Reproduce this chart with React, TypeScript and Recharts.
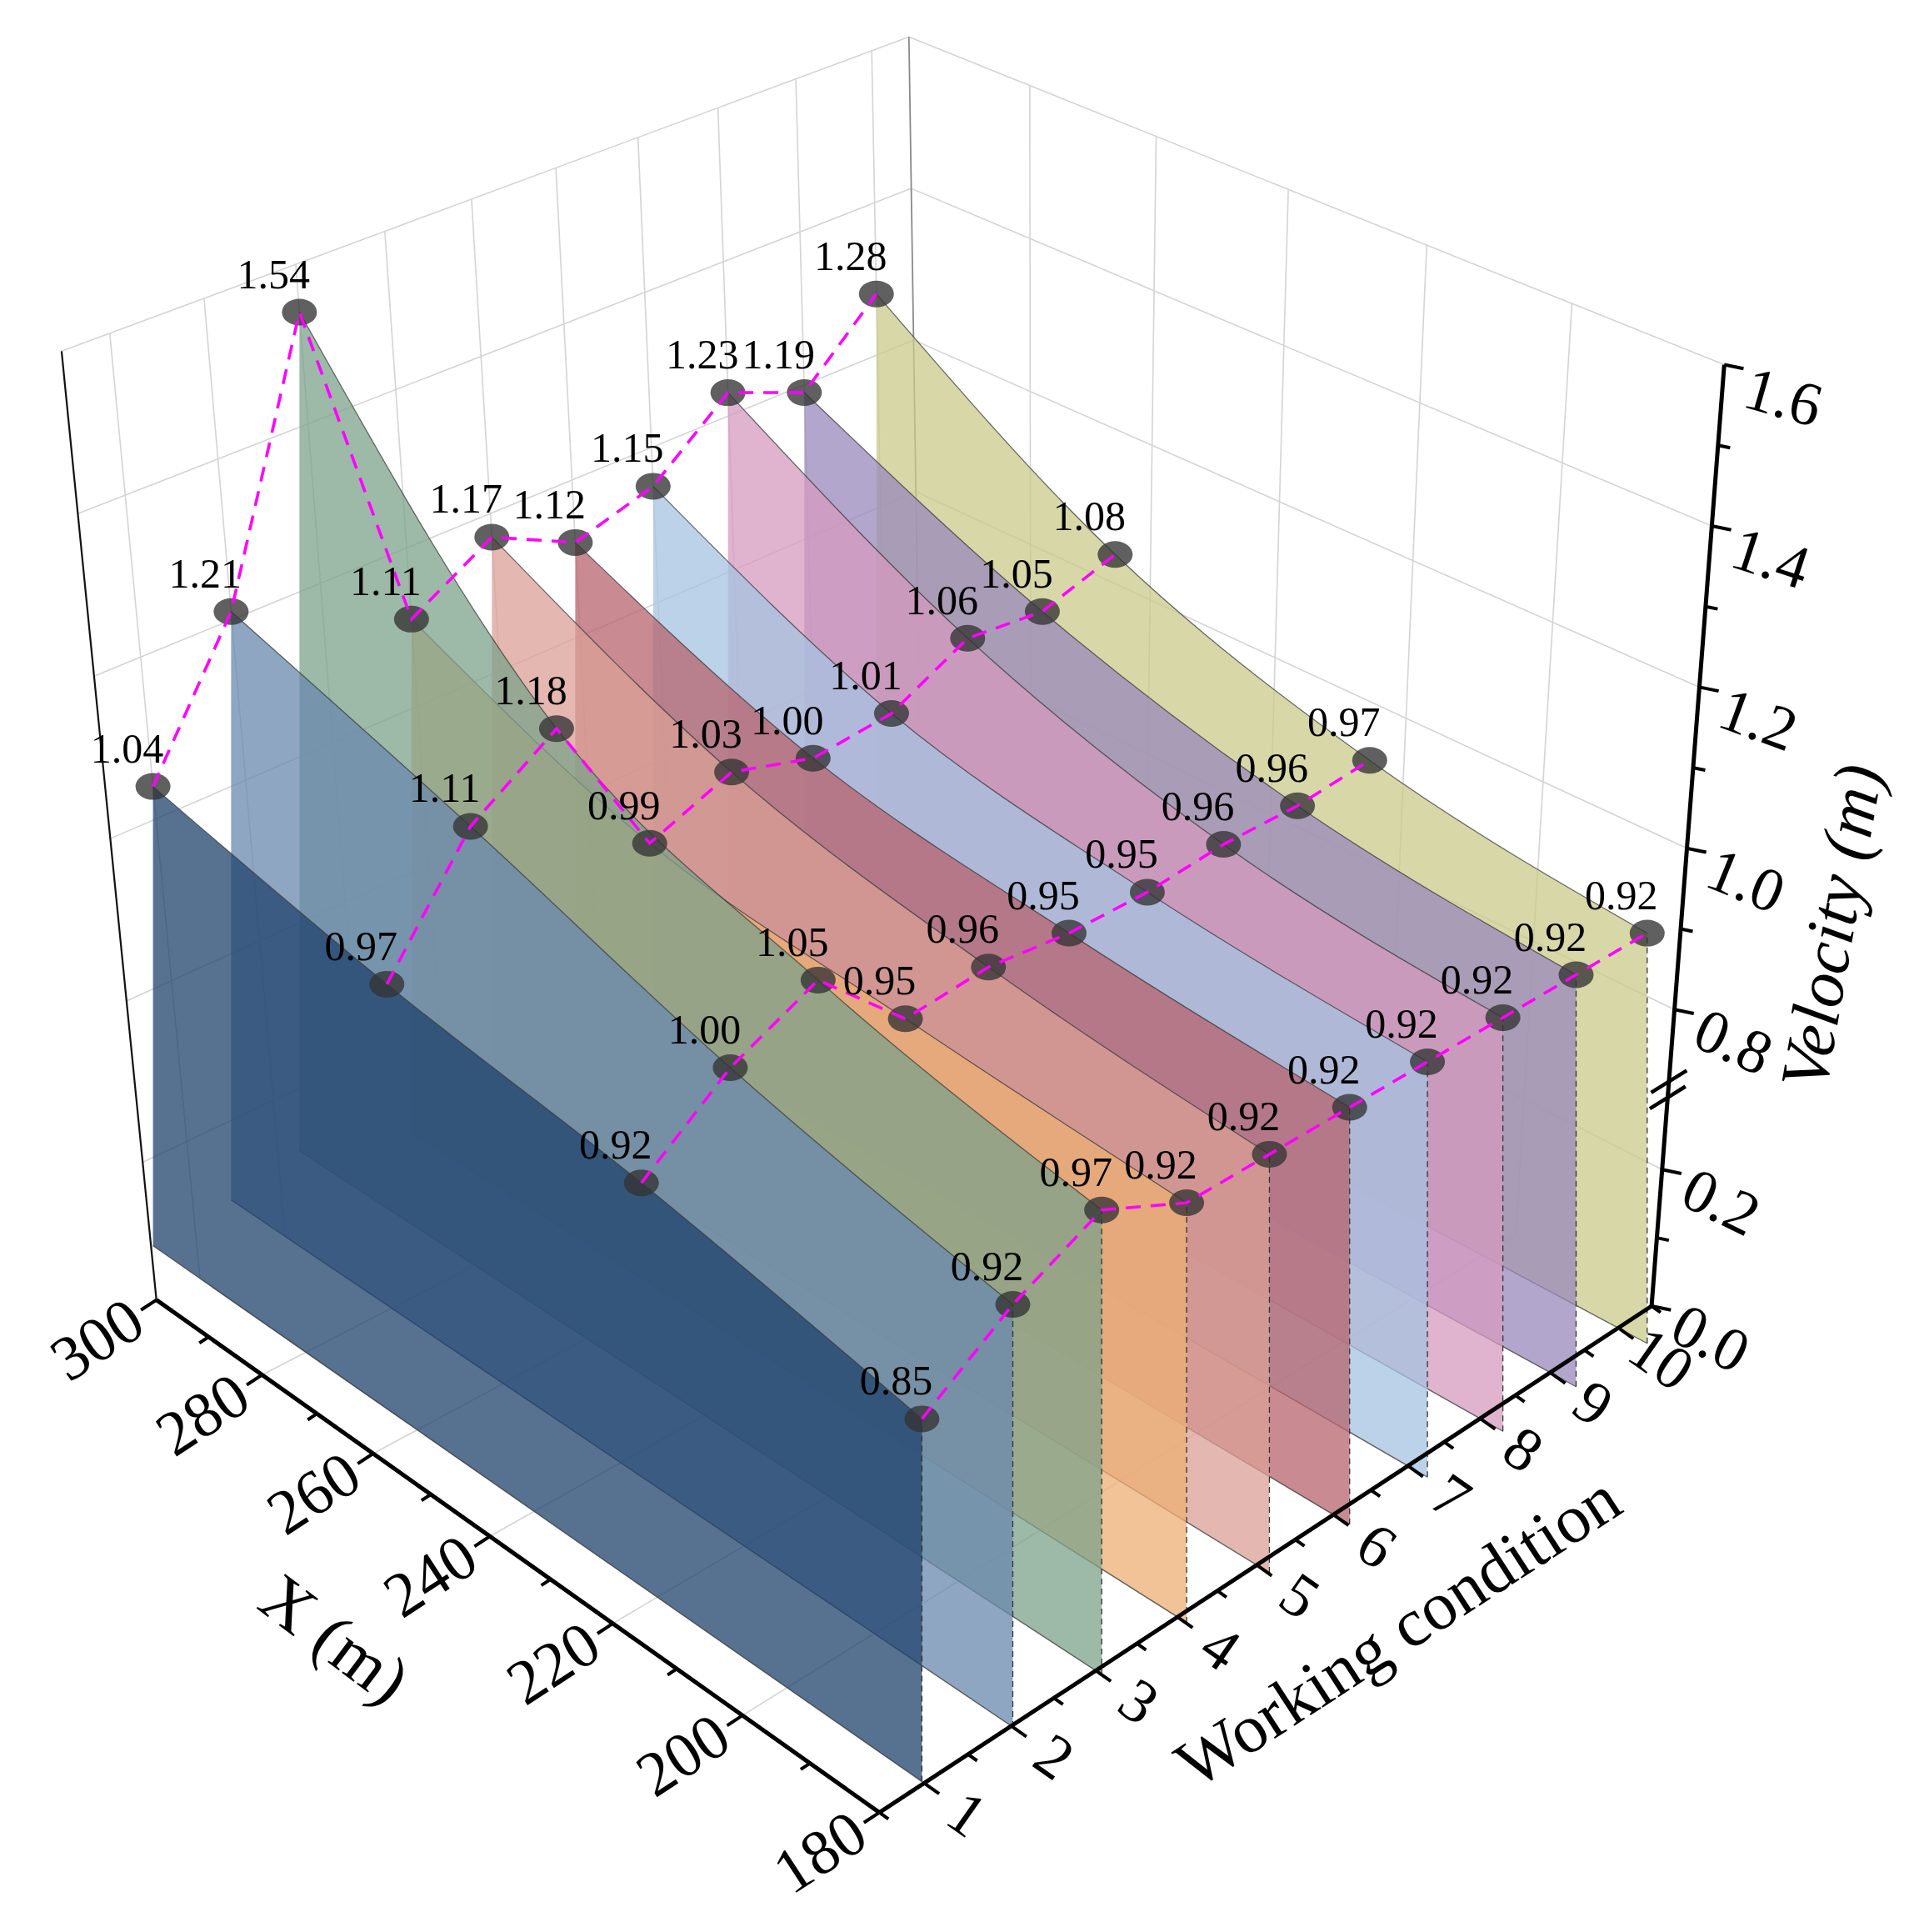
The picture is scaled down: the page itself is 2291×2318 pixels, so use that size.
import React from 'react'
import { ComposedChart, XAxis, YAxis, Area, Line, Scatter, ReferenceLine } from 'recharts'

// stations along X (m), back row first
const xStations = [300, 260, 220, 180]
const conditions = [1, 2, 3, 4, 5, 6, 7, 8, 9, 10]

// velocity read at each station, one value per working condition
const velocityAt300 = [1.04, 1.21, 1.54, 1.11, 1.17, 1.12, 1.15, 1.23, 1.19, 1.28]
const velocityAt260 = [0.97, 1.11, 1.18, 0.99, 1.03, 1.0, 1.01, 1.06, 1.05, 1.08]
const velocityAt220 = [0.92, 1.0, 1.05, 0.95, 0.96, 0.95, 0.95, 0.96, 0.96, 0.97]
const velocityAt180 = [0.85, 0.92, 0.97, 0.92, 0.92, 0.92, 0.92, 0.92, 0.92, 0.92]

const wallColors = ['#1f416c', '#6a88ae', '#7ca28a', '#ecaf74', '#dba096', '#b7636e', '#a6c3e0', '#d69abf', '#9a88bc', '#cbca8b']

// axis ticks
const xTicks = [180, 190, 200, 210, 220, 230, 240, 250, 260, 270, 280, 290, 300]
const xTickLabels = [180, 200, 220, 240, 260, 280, 300]
const conditionTicks = [0.5, 1, 1.5, 2, 2.5, 3, 3.5, 4, 4.5, 5, 5.5, 6, 6.5, 7, 7.5, 8, 8.5, 9, 9.5, 10, 10.5]
const velocityTicks = [0, 0.1, 0.2, 0.8, 0.9, 1.0, 1.1, 1.2, 1.3, 1.4, 1.5, 1.6]
const velocityTickLabels = [0, 0.2, 0.8, 1.0, 1.2, 1.4, 1.6]
const velocityGrid = [0.2, 0.8, 1.0, 1.2, 1.4]
const xGrid = [200, 220, 240, 260, 280]

const W = 2291
const H = 2318
// the chart works in a 1550 x 1568 view space, scaled up to the page
const VIEW_W = 1550
const VIEW_H = 1568

type P = [number, number]

// corners of the 3D box in view space: a = (180, cond 0.5), b = (300, 0.5), d = (300, 10.5), c = (180, 10.5)
const FLOOR: P[] = [[714, 1471], [127, 1055], [749, 748], [1341, 1060]]
const ROOF: P[] = [[705, 641], [50, 285], [738, 30], [1400, 296]]

// unit square -> quad, perspective
function makeQuad(p0: P, p1: P, p2: P, p3: P) {
  const dx1 = p1[0] - p2[0], dx2 = p3[0] - p2[0], dx3 = p0[0] - p1[0] + p2[0] - p3[0]
  const dy1 = p1[1] - p2[1], dy2 = p3[1] - p2[1], dy3 = p0[1] - p1[1] + p2[1] - p3[1]
  const den = dx1 * dy2 - dx2 * dy1
  const g = (dx3 * dy2 - dx2 * dy3) / den
  const h = (dx1 * dy3 - dx3 * dy1) / den
  const a = p1[0] - p0[0] + g * p1[0], b = p3[0] - p0[0] + h * p3[0], c = p0[0]
  const d = p1[1] - p0[1] + g * p1[1], e = p3[1] - p0[1] + h * p3[1], f = p0[1]
  return (u: number, v: number): P => {
    const q = g * u + h * v + 1
    return [(a * u + b * v + c) / q, (d * u + e * v + f) / q]
  }
}

const floorMap = makeQuad(FLOOR[0], FLOOR[1], FLOOR[2], FLOOR[3])
const roofMap = makeQuad(ROOF[0], ROOF[1], ROOF[2], ROOF[3])

// velocity axis has a break between 0.2 and 0.8
function velLevel(v: number) {
  if (v <= 0.2) return (v / 0.2) * 0.145
  if (v < 0.8) return 0.145 + ((v - 0.2) / 0.6) * 0.17
  return 0.315 + ((v - 0.8) / 0.8) * 0.685
}

function project(x: number, cond: number, vel: number): P {
  const u = (x - 180) / 120
  const t = (cond - 0.5) / 10
  const w = velLevel(vel)
  const f = floorMap(u, t)
  const r = roofMap(u, t)
  return [f[0] + w * (r[0] - f[0]), f[1] + w * (r[1] - f[1])]
}

function floorYAt(cond: number, sx: number) {
  const p1 = project(300, cond, 0)
  const p0 = project(180, cond, 0)
  return p1[1] + ((sx - p1[0]) * (p0[1] - p1[1])) / (p0[0] - p1[0])
}

const seg = (p: P, q: P) => [{ x: p[0], y: p[1] }, { x: q[0], y: q[1] }]
const move = (p: P, dir: P, len: number): P => [p[0] + dir[0] * len, p[1] + dir[1] * len]

const velocityRows = [velocityAt300, velocityAt260, velocityAt220, velocityAt180]

const wallData = conditions.map((c, i) =>
  xStations.map((x, j) => {
    const top = project(x, c, velocityRows[j][i])
    return { x: top[0], band: [floorYAt(c, top[0]), top[1]] }
  })
)

const wallEdges = conditions.map((c, i) => {
  const top = project(180, c, velocityAt180[i])
  return seg([top[0], floorYAt(c, top[0])], top)
})

const pointData = velocityRows.flatMap((vals, j) =>
  conditions.map((c, i) => {
    const p = project(xStations[j], c, vals[i])
    return { x: p[0], y: p[1], v: vals[i] }
  })
)

const rowLines = velocityRows.map((vals, j) =>
  conditions.map((c, i) => {
    const p = project(xStations[j], c, vals[i])
    return { x: p[0], y: p[1] }
  })
)

// grid on the two back walls and the floor
const gridSegs = [
  ...conditions.map(c => seg(project(300, c, 0), project(300, c, 1.6))),
  ...velocityGrid.map(v => seg(project(300, 0.5, v), project(300, 10.5, v))),
  seg(project(300, 0.5, 1.6), project(300, 10.5, 1.6)),
  ...xGrid.map(x => seg(project(x, 10.5, 0), project(x, 10.5, 1.6))),
  ...velocityGrid.map(v => seg(project(300, 10.5, v), project(180, 10.5, v))),
  seg(project(300, 10.5, 1.6), project(180, 10.5, 1.6)),
  ...xGrid.map(x => seg(project(x, 0.5, 0), project(x, 10.5, 0))),
  ...conditions.map(c => seg(project(300, c, 0), project(180, c, 0))),
]

const DIR_X: P = [-0.836, 0.548]
const DIR_C: P = [0.816, 0.578]
const DIR_V: P = [0.98, 0.2]

const axisSegs = [
  seg(project(300, 0.5, 0), project(180, 0.5, 0)),
  seg(project(180, 0.5, 0), project(180, 10.5, 0)),
  seg(project(180, 10.5, 0), project(180, 10.5, 1.6)),
]

const tickSegs = [
  ...xTicks.map(x => {
    const p = project(x, 0.5, 0)
    return seg(p, move(p, DIR_X, xTickLabels.includes(x) ? 15 : 9))
  }),
  ...conditionTicks.map(c => {
    const p = project(180, c, 0)
    return seg(p, move(p, DIR_C, Number.isInteger(c) ? 15 : 9))
  }),
  ...velocityTicks.map(v => {
    const p = project(180, 10.5, v)
    return seg(p, move(p, DIR_V, velocityTickLabels.includes(v) ? 16 : 10))
  }),
]

const breakSegs = [0.47, 0.53].map(v => {
  const p = project(180, 10.5, v)
  return seg(move(p, [0.85, -0.53], -17), move(p, [0.85, -0.53], 17))
})

const SERIF = "'Liberation Serif', 'Times New Roman', serif"

const axisText = [
  ...xTickLabels.map(x => {
    const p = move(project(x, 0.5, 0), DIR_X, 58)
    return { x: p[0], y: p[1], text: String(x), angle: -33, size: 76, italic: false }
  }),
  ...conditions.map(c => {
    const p = move(project(180, c, 0), DIR_C, 43)
    return { x: p[0], y: p[1], text: String(c), angle: 35, size: 74, italic: false }
  }),
  ...velocityTickLabels.map(v => {
    const p = project(180, 10.5, v)
    return { x: p[0] + 48, y: p[1] + 26, text: v.toFixed(1), angle: 28 - 12 * velLevel(v), size: 74, italic: false }
  }),
  { x: 272, y: 1330, text: 'X (m)', angle: 37, size: 82, italic: false },
  { x: 1135, y: 1324, text: 'Working condition', angle: -33, size: 82, italic: false },
  { x: 1487, y: 752, text: 'Velocity (m)', angle: -80, size: 82, italic: true },
]

const TextShape = (props: any) => {
  const { cx, cy, payload } = props
  return (
    <text
      x={cx}
      y={cy}
      transform={`rotate(${payload.angle} ${cx} ${cy})`}
      textAnchor="middle"
      dominantBaseline="central"
      fontFamily={SERIF}
      fontSize={payload.size}
      fontStyle={payload.italic ? 'italic' : 'normal'}
      fill="#000"
    >
      {payload.text}
    </text>
  )
}

const DotShape = (props: any) => {
  const { cx, cy } = props
  return <ellipse cx={cx} cy={cy} rx={21} ry={16} fill="#333" fillOpacity={0.78} />
}

const ValueShape = (props: any) => {
  const { cx, cy, payload } = props
  return (
    <text x={cx - 31} y={cy - 46} textAnchor="middle" dominantBaseline="central" fontFamily={SERIF} fontSize={50} fill="#000">
      {payload.v.toFixed(2)}
    </text>
  )
}

export default function App() {
  return (
    <div style={{ position: 'absolute', left: 0, top: 0, width: W, height: H, background: '#fff' }}>
      <ComposedChart width={W} height={H} margin={{ top: 0, right: 0, bottom: 0, left: 0 }}>
        <XAxis type="number" dataKey="x" domain={[0, VIEW_W]} hide allowDataOverflow />
        <YAxis type="number" domain={[0, VIEW_H]} reversed hide allowDataOverflow />

        {gridSegs.map((s, i) => (
          <ReferenceLine key={`g${i}`} segment={s} stroke="#d4d4d4" strokeWidth={1.6} ifOverflow="visible" zIndex={-50} />
        ))}
        <ReferenceLine segment={seg(project(300, 10.5, 0), project(300, 10.5, 1.6))} stroke="#8a8a8a" strokeWidth={1.8} ifOverflow="visible" zIndex={-50} />
        <ReferenceLine segment={seg(project(300, 0.5, 0), project(300, 0.5, 1.6))} stroke="#111" strokeWidth={2.2} ifOverflow="visible" zIndex={-50} />

        {conditions.map((c, i) => conditions.length - 1 - i).map(i => (
          <Area
            key={`w${i}`}
            data={wallData[i]}
            dataKey="band"
            type="monotone"
            fill={wallColors[i]}
            fillOpacity={0.75}
            stroke="#3a3a3a"
            strokeWidth={1.3}
            strokeOpacity={0.75}
            isAnimationActive={false}
            dot={false}
            activeDot={false}
          />
        ))}

        {wallEdges.map((s, i) => (
          <ReferenceLine key={`e${i}`} segment={s} stroke="#333" strokeWidth={1.3} strokeDasharray="7 5" ifOverflow="visible" zIndex={150} />
        ))}

        <Scatter data={pointData} dataKey="y" shape={DotShape} isAnimationActive={false} zIndex={600} />

        {rowLines.map((d, i) => (
          <Line
            key={`r${i}`}
            data={d}
            dataKey="y"
            type="linear"
            stroke="#ff00ff"
            strokeWidth={3.6}
            strokeDasharray="18 12"
            dot={false}
            activeDot={false}
            isAnimationActive={false}
            zIndex={700}
          />
        ))}

        <Scatter data={pointData} dataKey="y" shape={ValueShape} isAnimationActive={false} zIndex={800} />

        {axisSegs.map((s, i) => (
          <ReferenceLine key={`a${i}`} segment={s} stroke="#000" strokeWidth={5} ifOverflow="visible" zIndex={900} />
        ))}
        {tickSegs.map((s, i) => (
          <ReferenceLine key={`t${i}`} segment={s} stroke="#000" strokeWidth={4} ifOverflow="visible" zIndex={900} />
        ))}
        {breakSegs.map((s, i) => (
          <ReferenceLine key={`b${i}`} segment={s} stroke="#000" strokeWidth={4.5} ifOverflow="visible" zIndex={900} />
        ))}

        <Scatter data={axisText} dataKey="y" shape={TextShape} isAnimationActive={false} zIndex={900} />
      </ComposedChart>
    </div>
  )
}
